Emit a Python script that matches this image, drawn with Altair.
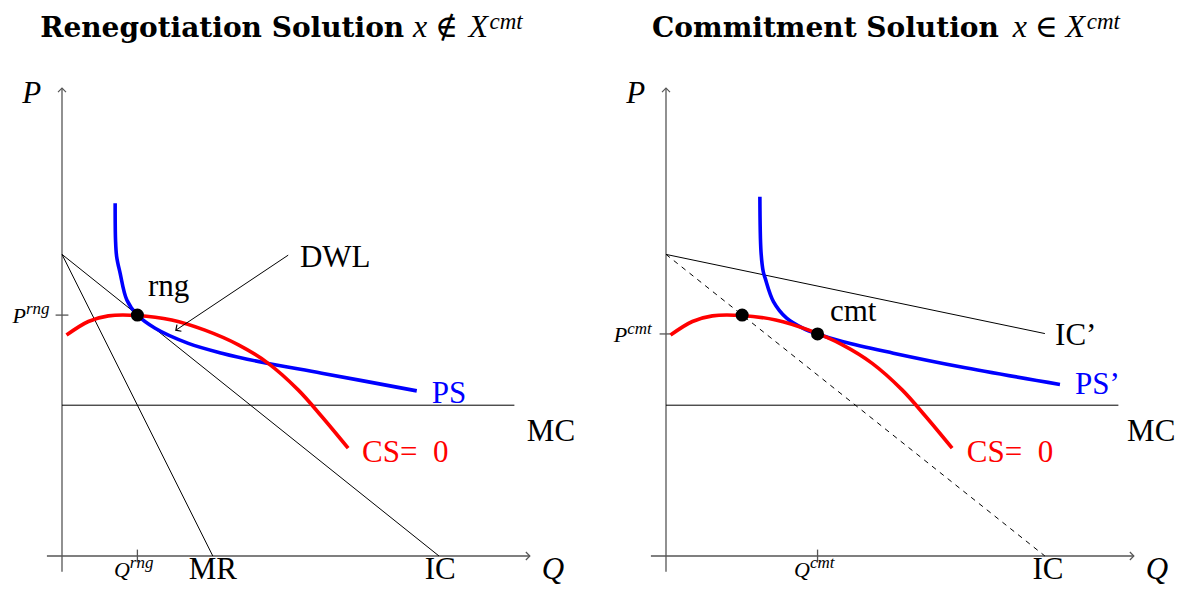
import math
import altair as alt
import pandas as pd

# ---------------- values (diagram units: Q across, P up) ----------------
# Left panel: renegotiation
PS_Q = [1.41, 1.42, 1.45, 1.54, 1.72, 2.00, 2.47, 3.35, 4.24, 5.30, 6.89, 9.41]
PS_P = [9.36, 8.38, 7.94, 7.51, 6.79, 6.39, 6.04, 5.64, 5.38, 5.14, 4.85, 4.38]
CS_Q = [0.12, 0.70, 1.23, 2.00, 2.91, 3.79, 4.68, 5.47, 6.27, 6.89, 7.59]
CS_P = [5.86, 6.22, 6.37, 6.38, 6.26, 5.99, 5.60, 5.11, 4.40, 3.70, 2.86]
MC_LINE = [(0.0, 4.0), (12.0, 4.0)]
IC_LINE = [(0.0, 8.0), (10.0, 0.0)]
MR_LINE = [(0.0, 8.0), (4.0, 0.0)]
DWL_ARROW = [(6.0, 7.98), (3.02, 5.99)]
RNG_PT = [(2.00, 6.39)]
Q_RNG = 2.00
P_RNG = 6.39

# Right panel: commitment
PS2_Q = [2.49, 2.52, 2.58, 2.63, 2.85, 3.20, 3.64, 4.02, 4.70, 6.03, 7.80, 10.45]
PS2_P = [9.53, 8.07, 7.54, 7.37, 6.75, 6.31, 6.04, 5.89, 5.68, 5.38, 5.02, 4.55]
ICP_LINE = [(0.0, 8.0), (10.05, 5.90)]
IC_DASH = [(0.0, 8.0), (10.05, 0.0)]
CMT_PTS = [(2.02, 6.39), (4.02, 5.89)]
Q_CMT = 4.02
P_CMT = 5.89

# axes extents
AXIS_Q = [-0.40, 12.41]
AXIS_P = [-0.42, 12.41]
TICK = 0.17

# ---------------- layout (pixels) ----------------
U = 37.7          # pixels per diagram unit
H = 578
OY = 548          # origin row inside panel
LEFT_W, LEFT_OX = 586, 54
RIGHT_W, RIGHT_OX = 581, 72

AX_COLOR = "#555555"
BLUE = "#0000ff"
RED = "#ff0000"
CHEV = "M-1,1L0,0L1,1"
SERIF = "Liberation Serif"

STYLES = {
    "big": dict(font=SERIF, fontSize=31, align="left", baseline="alphabetic"),
    "bigc": dict(font=SERIF, fontSize=31, align="center", baseline="alphabetic"),
    "axis": dict(font=SERIF, fontSize=31, fontStyle="italic", align="center", baseline="alphabetic"),
    "base": dict(font=SERIF, fontSize=22, fontStyle="italic", align="right", baseline="alphabetic"),
    "sup": dict(font=SERIF, fontSize=17, fontStyle="italic", align="left", baseline="alphabetic"),
    "title": dict(font="DejaVu Serif", fontSize=28, fontWeight="bold", align="left", baseline="alphabetic"),
    "tmath": dict(font=SERIF, fontSize=32, fontStyle="italic", align="left", baseline="alphabetic"),
    "tsym": dict(font="DejaVu Serif", fontSize=31, align="left", baseline="alphabetic"),
    "tsup": dict(font=SERIF, fontSize=23, fontStyle="italic", align="left", baseline="alphabetic"),
}

BOTTOM = -0.61   # baseline of the labels under the Q axis

LEFT_LABELS = [
    ("title", -0.58, 13.77, "Renegotiation Solution", "black"),
    ("tmath", 9.31, 13.77, "x", "black"),
    ("tsym", 9.90, 13.77, "∉", "black"),
    ("tmath", 10.78, 13.77, "X", "black"),
    ("tsup", 11.34, 13.98, "cmt", "black"),
    ("axis", -0.80, 12.02, "P", "black"),
    ("axis", 13.02, BOTTOM, "Q", "black"),
    ("bigc", 4.00, BOTTOM, "MR", "black"),
    ("bigc", 10.03, BOTTOM, "IC", "black"),
    ("big", 12.33, 3.05, "MC", "black"),
    ("big", 9.81, 4.06, "PS", BLUE),
    ("big", 7.96, 2.49, "CS=\u20020", RED),
    ("big", 6.31, 7.67, "DWL", "black"),
    ("big", 2.28, 6.90, "rng", "black"),
    ("base", -0.955, 6.19, "P", "black"),
    ("sup", -0.955, 6.41, "rng", "black"),
    ("base", 1.80, -0.56, "Q", "black"),
    ("sup", 1.80, -0.32, "rng", "black"),
]

RIGHT_LABELS = [
    ("title", -0.37, 13.77, "Commitment Solution", "black"),
    ("tmath", 9.20, 13.77, "x", "black"),
    ("tsym", 9.79, 13.77, "∈", "black"),
    ("tmath", 10.60, 13.77, "X", "black"),
    ("tsup", 11.16, 13.98, "cmt", "black"),
    ("axis", -0.80, 12.02, "P", "black"),
    ("axis", 13.02, BOTTOM, "Q", "black"),
    ("bigc", 10.13, BOTTOM, "IC", "black"),
    ("big", 12.23, 3.05, "MC", "black"),
    ("big", 10.85, 4.30, "PS’", BLUE),
    ("big", 10.32, 5.60, "IC’", "black"),
    ("big", 7.98, 2.49, "CS=\u20020", RED),
    ("big", 4.35, 6.23, "cmt", "black"),
    ("base", -1.03, 5.68, "P", "black"),
    ("sup", -1.03, 5.88, "cmt", "black"),
    ("base", 3.82, -0.56, "Q", "black"),
    ("sup", 3.82, -0.32, "cmt", "black"),
]


def seg_df(segs):
    return pd.DataFrame([{"q1": a[0], "p1": a[1], "q2": b[0], "p2": b[1]} for a, b in segs])


def angle_of(seg):
    (q1, p1), (q2, p2) = seg
    return math.degrees(math.atan2(q2 - q1, p2 - p1)) % 360


def panel(W, OX, black_segs, dash_segs, curves, dots, q_tick, p_tick, arrow, labels):
    xs = alt.Scale(domain=[-OX / U, (W - OX) / U], nice=False, zero=False)
    ys = alt.Scale(domain=[-(H - OY) / U, OY / U], nice=False, zero=False)

    def xy(q="q", p="p"):
        return dict(x=alt.X(f"{q}:Q", scale=xs, axis=None),
                    y=alt.Y(f"{p}:Q", scale=ys, axis=None))

    def rules(segs, color, width, dash=None):
        kw = dict(color=color, strokeWidth=width)
        if dash:
            kw["strokeDash"] = dash
        return alt.Chart(seg_df(segs)).mark_rule(**kw).encode(
            **xy("q1", "p1"), x2="q2:Q", y2="p2:Q")

    axis_segs = [
        [(AXIS_Q[0], 0.0), (AXIS_Q[1], 0.0)],
        [(0.0, AXIS_P[0]), (0.0, AXIS_P[1])],
        [(q_tick, -TICK), (q_tick, TICK)],
        [(-TICK, p_tick), (TICK, p_tick)],
    ]
    layers = [rules(axis_segs, AX_COLOR, 1.3), rules(black_segs, "black", 1.0)]
    if dash_segs:
        layers.append(rules(dash_segs, "black", 1.0, [5, 5]))

    rows = []
    for name, qs, ps, col in curves:
        for i, (q, p) in enumerate(zip(qs, ps)):
            rows.append({"series": name, "i": i, "q": q, "p": p, "color": col})
    layers.append(alt.Chart(pd.DataFrame(rows)).mark_line(
        strokeWidth=3.6, interpolate="catmull-rom").encode(
        **xy(), detail="series:N", order="i:Q", color=alt.Color("color:N", scale=None)))

    layers.append(alt.Chart(pd.DataFrame(dots, columns=["q", "p"])).mark_circle(
        size=170, color="black", opacity=1).encode(**xy()))

    heads = [
        {"q": 0.0, "p": AXIS_P[1], "ang": 0.0, "color": AX_COLOR},
        {"q": AXIS_Q[1], "p": 0.0, "ang": 90.0, "color": AX_COLOR},
    ]
    if arrow:
        layers.append(rules([arrow], "black", 1.0))
        heads.append({"q": arrow[1][0], "p": arrow[1][1], "ang": angle_of(arrow), "color": "black"})
    layers.append(alt.Chart(pd.DataFrame(heads)).mark_point(
        shape=CHEV, filled=False, size=64, strokeWidth=1.2, opacity=1).encode(
        **xy(), angle=alt.Angle("ang:Q", scale=None), color=alt.Color("color:N", scale=None)))

    lab = pd.DataFrame(labels, columns=["style", "q", "p", "text", "color"])
    for st, kw in STYLES.items():
        sub = lab[lab["style"] == st]
        if len(sub) == 0:
            continue
        layers.append(alt.Chart(sub).mark_text(clip=True, **kw).encode(
            **xy(), text="text:N", color=alt.Color("color:N", scale=None)))

    return alt.layer(*layers).properties(width=W, height=H)


left = panel(
    LEFT_W, LEFT_OX,
    [MC_LINE, IC_LINE, MR_LINE], [],
    [("ps", PS_Q, PS_P, BLUE), ("cs", CS_Q, CS_P, RED)],
    RNG_PT, Q_RNG, P_RNG, DWL_ARROW, LEFT_LABELS)

right = panel(
    RIGHT_W, RIGHT_OX,
    [MC_LINE, ICP_LINE], [IC_DASH],
    [("ps2", PS2_Q, PS2_P, BLUE), ("cs", CS_Q, CS_P, RED)],
    CMT_PTS, Q_CMT, P_CMT, None, RIGHT_LABELS)

chart = alt.hconcat(left, right, spacing=0).properties(padding=0).configure_view(stroke=None)

chart.save("out.html", embed_options={"renderer": "svg", "actions": False})
